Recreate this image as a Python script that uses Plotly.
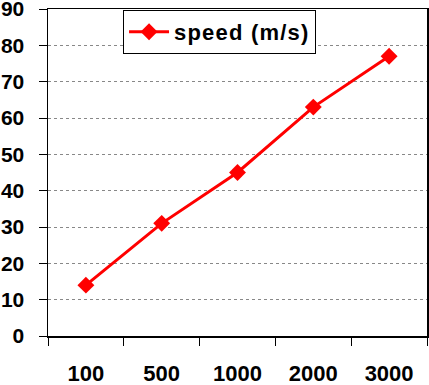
import plotly.graph_objects as go

categories = ["100", "500", "1000", "2000", "3000"]
speed = [14, 31, 45, 63, 77]
y_ticks = [0, 10, 20, 30, 40, 50, 60, 70, 80, 90]
series_name = "speed (m/s)"

FONT = "Liberation Sans, Arial, sans-serif"

fig = go.Figure()
fig.add_trace(go.Scatter(
    x=categories, y=speed, mode="lines+markers",
    name='<b><span style="letter-spacing:1.2px">' + series_name + "</span></b>",
    line=dict(color="#ff0000", width=3),
    marker=dict(symbol="diamond", size=13, color="#ff0000"),
))

fig.update_layout(
    width=429, height=385,
    margin=dict(l=48, r=2, t=9, b=49),
    paper_bgcolor="white", plot_bgcolor="white",
    font=dict(family=FONT, color="black"),
    showlegend=True,
    legend=dict(
        x=0.198, y=0.997, xanchor="left", yanchor="top",
        bordercolor="black", borderwidth=1, bgcolor="white",
        font=dict(size=22, family=FONT, color="black"),
        itemwidth=40,
    ),
    xaxis=dict(
        type="category", range=[-0.5, len(categories) - 0.5],
        showline=True, linecolor="black", linewidth=1.5,
        mirror=True, ticks="outside", ticklen=8, tickcolor="black",
        tickson="boundaries", showgrid=False, automargin=False,
        ticklabeloverflow="allow",
        tickfont=dict(size=22, family=FONT, color="black", weight="bold"),
        ticklabelstandoff=17,
    ),
    yaxis=dict(
        range=[0, 90], tickvals=y_ticks, showline=True, linecolor="black",
        linewidth=1.5, mirror=True, ticks="outside", ticklen=8,
        tickcolor="black", showgrid=True, gridcolor="#888888", griddash="dot",
        gridwidth=1, zeroline=False, automargin=False,
        ticklabeloverflow="allow",
        tickfont=dict(size=21, family=FONT, color="black", weight="bold"),
        ticklabelstandoff=10,
    ),
)

fig.write_html("out.html", config={"displayModeBar": False, "staticPlot": True})

with open("out.html", "r", encoding="utf-8") as f:
    html = f.read()
html = html.replace("<body>", '<body style="margin:0;padding:0;overflow:hidden">', 1)
with open("out.html", "w", encoding="utf-8") as f:
    f.write(html)
